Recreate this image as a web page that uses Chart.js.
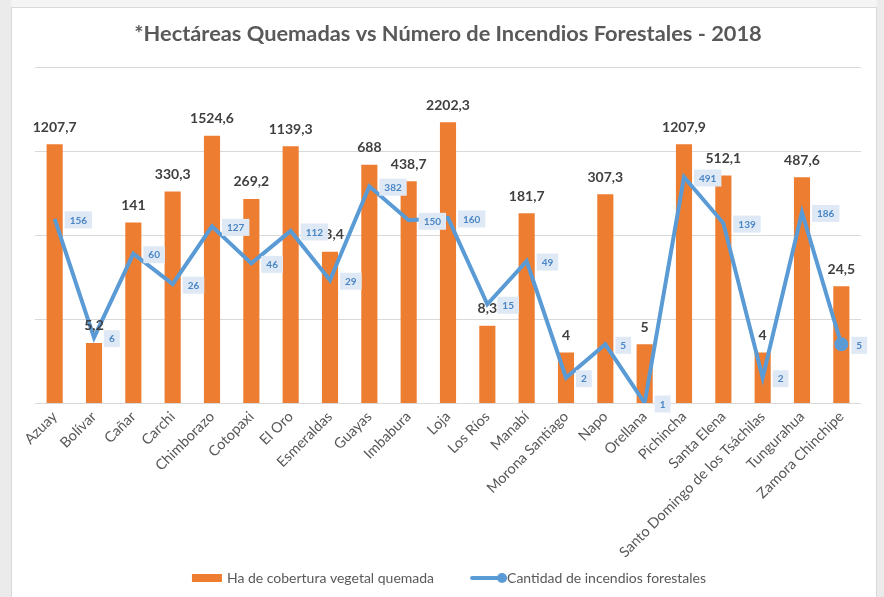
<!DOCTYPE html>
<html>
<head>
<meta charset="utf-8">
<script src="https://cdn.jsdelivr.net/npm/chart.js@4/dist/chart.umd.min.js"></script>
<style>
  html, body { margin: 0; padding: 0; background: #ebebeb; }
  #wrap { position: relative; width: 884px; height: 597px; }
</style>
</head>
<body>
<div id="wrap"><canvas id="grafico" width="884" height="597"></canvas></div>
<script>
const provincias = ["Azuay", "Bolívar", "Cañar", "Carchi", "Chimborazo", "Cotopaxi", "El Oro", "Esmeraldas",
  "Guayas", "Imbabura", "Loja", "Los Ríos", "Manabí", "Morona Santiago", "Napo", "Orellana", "Pichincha",
  "Santa Elena", "Santo Domingo de los Tsáchilas", "Tungurahua", "Zamora Chinchipe"];
const hectareas = [1207.7, 5.2, 141, 330.3, 1524.6, 269.2, 1139.3, 63.4, 688, 438.7, 2202.3, 8.3, 181.7,
  4, 307.3, 5, 1207.9, 512.1, 4, 487.6, 24.5];
const incendios = [156, 6, 60, 26, 127, 46, 112, 29, 382, 150, 160, 15, 49, 2, 5, 1, 491, 139, 2, 186, 5];
const marcasY = [1, 10, 100, 1000, 10000];

const NARANJA = "#ed7d31";
const AZUL = "#5b9bd5";
const GRIS = "#595959";
const FUENTE = "Lato, 'Open Sans', sans-serif";

function formato(v) {
  return String(v).replace(".", ",");
}

const fondo = {
  id: "fondo",
  beforeDraw(chart) {
    const ctx = chart.ctx;
    ctx.save();
    ctx.fillStyle = "#ebebeb";
    ctx.fillRect(0, 0, chart.width, chart.height);
    ctx.fillStyle = "#f4f4f4";
    ctx.fillRect(11, 0, 866, 7);
    ctx.fillStyle = "#ffffff";
    ctx.fillRect(11, 7, 866, chart.height);
    ctx.strokeStyle = "#d9d9d9";
    ctx.lineWidth = 1;
    ctx.strokeRect(11.5, 7.5, 865, chart.height + 5);
    ctx.restore();
  }
};

const etiquetas = {
  id: "etiquetas",
  afterDatasetsDraw(chart) {
    const ctx = chart.ctx;
    ctx.save();

    // valores de las barras
    ctx.font = "bold 14px " + FUENTE;
    ctx.fillStyle = "#404040";
    ctx.textAlign = "center";
    ctx.textBaseline = "middle";
    chart.getDatasetMeta(0).data.forEach((barra, i) => {
      ctx.fillText(formato(hectareas[i]), barra.x, barra.y - 17);
    });

    // valores de la linea
    ctx.font = "bold 10px " + FUENTE;
    chart.getDatasetMeta(1).data.forEach((punto, i) => {
      const txt = formato(incendios[i]);
      const w = ctx.measureText(txt).width + 10;
      const h = 17;
      const x = punto.x + 10;
      const y = punto.y + 1 - h / 2;
      ctx.fillStyle = "#dfe9f5";
      ctx.fillRect(x, y, w, h);
      ctx.fillStyle = "#4a86c5";
      ctx.textAlign = "center";
      ctx.fillText(txt, x + w / 2, y + h / 2 + 0.5);
    });
    ctx.restore();
  }
};

// leyenda al estilo Excel: icono pegado al texto y separacion amplia entre items
const leyenda = {
  id: "leyenda",
  afterDraw(chart) {
    const ctx = chart.ctx;
    const sets = chart.data.datasets;
    ctx.save();
    ctx.font = "14px " + FUENTE;
    ctx.textBaseline = "middle";
    ctx.textAlign = "left";
    const t1 = ctx.measureText(sets[0].label).width;
    const t2 = ctx.measureText(sets[1].label).width;
    const total = 30 + 5 + t1 + 36 + 32 + 5 + t2;
    const y = chart.height - 19;
    let x = (chart.chartArea.left + chart.chartArea.right) / 2 + 1 - total / 2;

    ctx.fillStyle = NARANJA;
    ctx.fillRect(x, y - 4, 30, 8);
    x += 35;
    ctx.fillStyle = GRIS;
    ctx.fillText(sets[0].label, x, y);
    x += t1 + 36;

    ctx.strokeStyle = AZUL;
    ctx.lineWidth = 4;
    ctx.lineCap = "round";
    ctx.beginPath();
    ctx.moveTo(x + 2, y);
    ctx.lineTo(x + 32, y);
    ctx.stroke();
    ctx.fillStyle = AZUL;
    ctx.beginPath();
    ctx.arc(x + 32, y, 5, 0, Math.PI * 2);
    ctx.fill();
    x += 37;
    ctx.fillStyle = GRIS;
    ctx.fillText(sets[1].label, x, y);
    ctx.restore();
  }
};

const radios = incendios.map((v, i) => (i === incendios.length - 1 ? 5 : 0));

new Chart(document.getElementById("grafico"), {
  type: "bar",
  data: {
    labels: provincias,
    datasets: [
      {
        type: "bar",
        label: "Ha de cobertura vegetal quemada",
        data: hectareas,
        backgroundColor: NARANJA,
        barPercentage: 0.41,
        categoryPercentage: 1,
        order: 2
      },
      {
        type: "line",
        label: "Cantidad de incendios forestales",
        data: incendios,
        borderColor: AZUL,
        backgroundColor: AZUL,
        borderWidth: 4,
        pointRadius: radios,
        pointHoverRadius: radios,
        tension: 0,
        order: 1
      }
    ]
  },
  options: {
    responsive: false,
    animation: false,
    layout: { padding: { left: 35, right: 23, top: 12, bottom: 37 } },
    scales: {
      x: {
        grid: { display: false, drawTicks: false },
        border: { display: false },
        ticks: {
          color: GRIS,
          font: { family: FUENTE, size: 14.5 },
          minRotation: 45,
          maxRotation: 45,
          autoSkip: false,
          padding: 5
        },
        afterFit(scale) { scale.height = 157; }
      },
      y: {
        type: "logarithmic",
        min: 1,
        max: 10000,
        ticks: { display: false },
        grid: { color: "#d9d9d9", lineWidth: 1, drawTicks: false },
        border: { display: false },
        afterBuildTicks(scale) {
          scale.ticks = marcasY.map((v) => ({ value: v }));
        },
        afterFit(scale) { scale.width = 0; }
      }
    },
    plugins: {
      title: {
        display: true,
        text: "*Hectáreas Quemadas vs Número de Incendios Forestales - 2018",
        color: GRIS,
        font: { family: FUENTE, size: 21.8, weight: "bold" },
        padding: { top: 9, bottom: 20 }
      },
      legend: { display: false },
      tooltip: { enabled: false }
    }
  },
  plugins: [fondo, etiquetas, leyenda]
});
</script>
</body>
</html>
